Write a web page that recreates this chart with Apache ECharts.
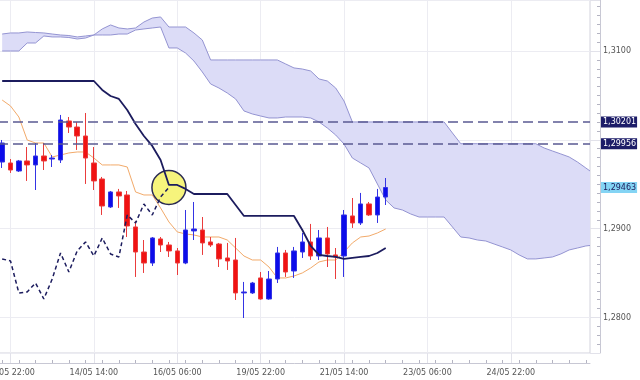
<!DOCTYPE html>
<html><head><meta charset="utf-8">
<script src="https://cdn.jsdelivr.net/npm/echarts@6/dist/echarts.min.js"></script>
<style>html,body{margin:0;padding:0;background:#fff}#c{width:640px;height:380px}</style>
</head><body><div id="c"></div>
<script>
// ---- data (EUR/USD style H4 chart with Ichimoku) ----
const barCount = 71;
const tickBars = [1, 11, 21, 31, 41, 51, 61];
const tickLabels = ['12/05 22:00', '14/05 14:00', '16/05 06:00', '19/05 22:00', '21/05 14:00', '23/05 06:00', '24/05 22:00'];

const opens  = [1.29750,1.29739,1.29649,1.29762,1.29717,1.29818,1.29784,1.29773,1.30212,1.30144,1.30043,1.29739,1.29559,1.29244,1.29413,1.29379,1.29019,1.28737,1.28613,1.28884,1.28816,1.28749,1.28613,1.28974,1.28985,1.28850,1.28827,1.28670,1.28647,1.28276,1.28276,1.28445,1.28208,1.28433,1.28726,1.28523,1.28737,1.28850,1.28692,1.28895,1.28704,1.28692,1.29143,1.29064,1.29278,1.29154,1.29356];
const closes = [1.29964,1.29660,1.29762,1.29717,1.29818,1.29762,1.29795,1.30223,1.30144,1.30043,1.29795,1.29537,1.29255,1.29413,1.29368,1.29030,1.28737,1.28613,1.28895,1.28816,1.28749,1.28613,1.28985,1.28996,1.28839,1.28816,1.28659,1.28636,1.28276,1.28287,1.28388,1.28208,1.28433,1.28726,1.28512,1.28749,1.28850,1.28692,1.28895,1.28715,1.28681,1.29154,1.29064,1.29278,1.29154,1.29356,1.29463];
const lows   = [1.29683,1.29627,1.29638,1.29537,1.29435,1.29660,1.29694,1.29739,1.30077,1.29886,1.29503,1.29435,1.29154,1.29233,1.29233,1.28906,1.28456,1.28501,1.28580,1.28737,1.28681,1.28478,1.28600,1.28872,1.28704,1.28794,1.28568,1.28535,1.28197,1.27994,1.28265,1.28200,1.28200,1.28388,1.28456,1.28445,1.28670,1.28647,1.28647,1.28568,1.28433,1.28456,1.29008,1.29041,1.29143,1.29064,1.29266];
const highs  = [1.29998,1.29784,1.29773,1.29919,1.29964,1.29964,1.29829,1.30280,1.30257,1.30201,1.30302,1.29919,1.29582,1.29424,1.29447,1.29424,1.29086,1.28872,1.28906,1.28906,1.28850,1.28782,1.29210,1.29300,1.29131,1.28906,1.28839,1.28839,1.28895,1.28400,1.28400,1.28512,1.28523,1.28794,1.28760,1.28794,1.28951,1.29053,1.28985,1.29019,1.28782,1.29210,1.29345,1.29402,1.29300,1.29447,1.29570];

const tenkan = [1.30448,1.30381,1.30257,1.29998,1.29964,1.29964,1.29807,1.29829,1.29852,1.29863,1.29863,1.29795,1.29717,1.29717,1.29717,1.29694,1.29413,1.29379,1.29379,1.29233,1.29075,1.28963,1.28940,1.28929,1.28906,1.28906,1.28906,1.28872,1.28782,1.28692,1.28647,1.28647,1.28568,1.28445,1.28445,1.28467,1.28501,1.28557,1.28625,1.28647,1.28647,1.28737,1.28839,1.28906,1.28917,1.28951,1.28996];
const kijun  = [1.30662,1.30662,1.30662,1.30662,1.30662,1.30662,1.30662,1.30662,1.30662,1.30662,1.30662,1.30662,1.30561,1.30493,1.30460,1.30336,1.30178,1.30043,1.29931,1.29773,1.29492,1.29492,1.29447,1.29390,1.29390,1.29390,1.29390,1.29390,1.29266,1.29143,1.29143,1.29143,1.29143,1.29143,1.29143,1.29143,1.28985,1.28805,1.28704,1.28692,1.28681,1.28659,1.28670,1.28681,1.28692,1.28726,1.28782];
const chikou = [1.28659,1.28636,1.28276,1.28287,1.28388,1.28208,1.28433,1.28726,1.28512,1.28749,1.28850,1.28692,1.28895,1.28715,1.28681,1.29154,1.29064,1.29278,1.29154,1.29356,1.29463];

const cloudTop = [1.31191,1.31203,1.31203,1.31214,1.31208,1.31203,1.31191,1.31180,1.31174,1.31158,1.31169,1.31180,1.31248,1.31293,1.31259,1.31248,1.31259,1.31326,1.31371,1.31383,1.31270,1.31270,1.31270,1.31203,1.31124,1.30899,1.30899,1.30899,1.30899,1.30899,1.30899,1.30899,1.30899,1.30899,1.30854,1.30809,1.30797,1.30775,1.30685,1.30662,1.30583,1.30437,1.30201,1.30201,1.30201,1.30201,1.30201,1.30201,1.30201,1.30201,1.30201,1.30201,1.30201,1.30201,1.30077,1.29956,1.29956,1.29956,1.29956,1.29956,1.29956,1.29956,1.29956,1.29956,1.29956,1.29908,1.29874,1.29841,1.29807,1.29750,1.29683,1.29615];
const cloudBottom = [1.31000,1.31000,1.31000,1.31090,1.31090,1.31169,1.31158,1.31158,1.31152,1.31135,1.31146,1.31180,1.31180,1.31180,1.31191,1.31191,1.31236,1.31248,1.31259,1.31270,1.31034,1.31034,1.30977,1.30887,1.30764,1.30629,1.30583,1.30527,1.30460,1.30325,1.30291,1.30268,1.30246,1.30246,1.30257,1.30257,1.30257,1.30246,1.30201,1.30133,1.30054,1.29953,1.29795,1.29739,1.29683,1.29503,1.29323,1.29233,1.29210,1.29165,1.29131,1.29131,1.29131,1.29131,1.29019,1.28906,1.28895,1.28872,1.28861,1.28827,1.28794,1.28760,1.28704,1.28659,1.28659,1.28670,1.28681,1.28715,1.28760,1.28782,1.28805,1.28816];

const levels = [1.30201, 1.29956];
const lastPrice = 1.29463;
const markerBar = 20;
const yMin = 1.276, yMax = 1.31574;

// ---- build ----
const cats = Array.from({length: barCount}, (_, i) => String(i));
const labelMap = {};
tickBars.forEach((b, i) => { labelMap[b] = tickLabels[i]; });
const isTick = (i) => labelMap[i] !== undefined;
const fmt = (v, d) => v.toFixed(d).replace('.', ',');
const candleData = opens.map((o, i) => [o, closes[i], lows[i], highs[i]]);
const FONT = 'DejaVu Sans';
const markerVals = levels.concat([lastPrice]);

const chart = echarts.init(document.getElementById('c'));
chart.setOption({
  animation: false,
  backgroundColor: '#ffffff',
  grid: {left: -2, right: 50, top: 0, bottom: 27, show: true, borderColor: '#d2d2dc', borderWidth: 1,
    backgroundColor: 'transparent', containLabel: false, outerBoundsMode: 'none'},
  xAxis: [{
    type: 'category', data: cats, boundaryGap: true, offset: 10, position: 'bottom',
    axisLine: {show: true, lineStyle: {color: '#c8c8d4'}},
    axisTick: {show: true, inside: true, length: 10, alignWithLabel: true, interval: isTick, lineStyle: {color: '#e2e2ea'}},
    axisLabel: {interval: isTick, formatter: (v, i) => labelMap[i] || '', color: '#555', fontSize: 8, fontFamily: FONT, margin: 6},
    splitLine: {show: true, alignWithLabel: true, interval: isTick, lineStyle: {color: '#ececf2'}}
  }, {
    type: 'category', data: cats, boundaryGap: true, offset: 10, position: 'bottom',
    axisLine: {show: false}, axisLabel: {show: false}, splitLine: {show: false},
    axisTick: {show: true, inside: true, length: 3, alignWithLabel: true, interval: 1, lineStyle: {color: '#b4b4c2'}}
  }],
  yAxis: {
    type: 'value', position: 'right', min: yMin, max: yMax, offset: 10,
    axisLine: {show: true, lineStyle: {color: '#c8c8d4'}},
    axisTick: {show: true, inside: true, length: 10, lineStyle: {color: '#e2e2ea'}},
    minorTick: {show: true, splitNumber: 10, length: 3, lineStyle: {color: '#b4b4c2'}},
    axisLabel: {showMinLabel: false, showMaxLabel: false, color: '#555', fontSize: 8, fontFamily: FONT, margin: 3,
      formatter: (v) => markerVals.some(m => Math.abs(m - v) < 0.0008) ? '' : fmt(v, 4)},
    splitLine: {show: true, lineStyle: {color: '#ececf2'}}
  },
  series: [
    {
      type: 'custom', z: 1, silent: true, clip: true,
      data: [[0, cloudTop[0]]],
      renderItem: (params, api) => {
        const top = cloudTop.map((v, i) => api.coord([i, v]));
        const bot = cloudBottom.map((v, i) => api.coord([i, v]));
        const cs = params.coordSys;
        return {type: 'group',
          clipPath: {type: 'rect', shape: {x: cs.x, y: cs.y, width: cs.width, height: cs.height}},
          children: [
            {type: 'polygon', shape: {points: top.concat(bot.slice().reverse())}, style: {fill: '#dcdcf7', stroke: null}},
            {type: 'polyline', shape: {points: top}, style: {stroke: '#9494d2', lineWidth: 1, fill: null}},
            {type: 'polyline', shape: {points: bot}, style: {stroke: '#9494d2', lineWidth: 1, fill: null}}
          ]};
      }
    },
    {
      type: 'line', name: 'tenkan', data: tenkan, symbol: 'none', z: 3, clip: false,
      lineStyle: {color: '#f2aa6a', width: 1},
      markLine: {
        silent: true, symbol: 'none', z: 6, precision: 5,
        data: [
          {yAxis: levels[0], lineStyle: {color: '#5a5a92', width: 1.5, type: [10, 5]},
            label: {backgroundColor: '#1c1c68', color: '#ffffff'}},
          {yAxis: levels[1], lineStyle: {color: '#5a5a92', width: 1.5, type: [10, 5]},
            label: {backgroundColor: '#1c1c68', color: '#ffffff'}},
          {yAxis: lastPrice, lineStyle: {color: 'rgba(0,0,0,0)', width: 1, type: 'solid'},
            label: {backgroundColor: '#84d4f4', color: '#1c1c5a'}}
        ],
        label: {show: true, position: 'end', distance: 11, fontSize: 8, fontFamily: FONT, lineHeight: 9,
          padding: [1, 1, 1, 2], formatter: (p) => fmt(p.value, 5)}
      }
    },
    {
      type: 'scatter', data: [[String(markerBar), chikou[markerBar]]], symbolSize: 34, z: 3, silent: true,
      itemStyle: {color: '#f6f47c', borderColor: '#2a2a52', borderWidth: 1.5, opacity: 1}
    },
    {
      type: 'candlestick', data: candleData, barWidth: 5, z: 4,
      itemStyle: {color: '#0c0cea', color0: '#f01212', borderColor: '#3434e4', borderColor0: '#ea3c3c', borderWidth: 1}
    },
    {
      type: 'line', name: 'kijun', data: kijun, symbol: 'none', z: 5,
      lineStyle: {color: '#1c1c5e', width: 1.8}
    },
    {
      type: 'line', name: 'chikou', data: chikou, symbol: 'none', z: 5,
      lineStyle: {color: '#1c1c5e', width: 1.5, type: [4, 3]}
    }
  ]
});
</script></body></html>
